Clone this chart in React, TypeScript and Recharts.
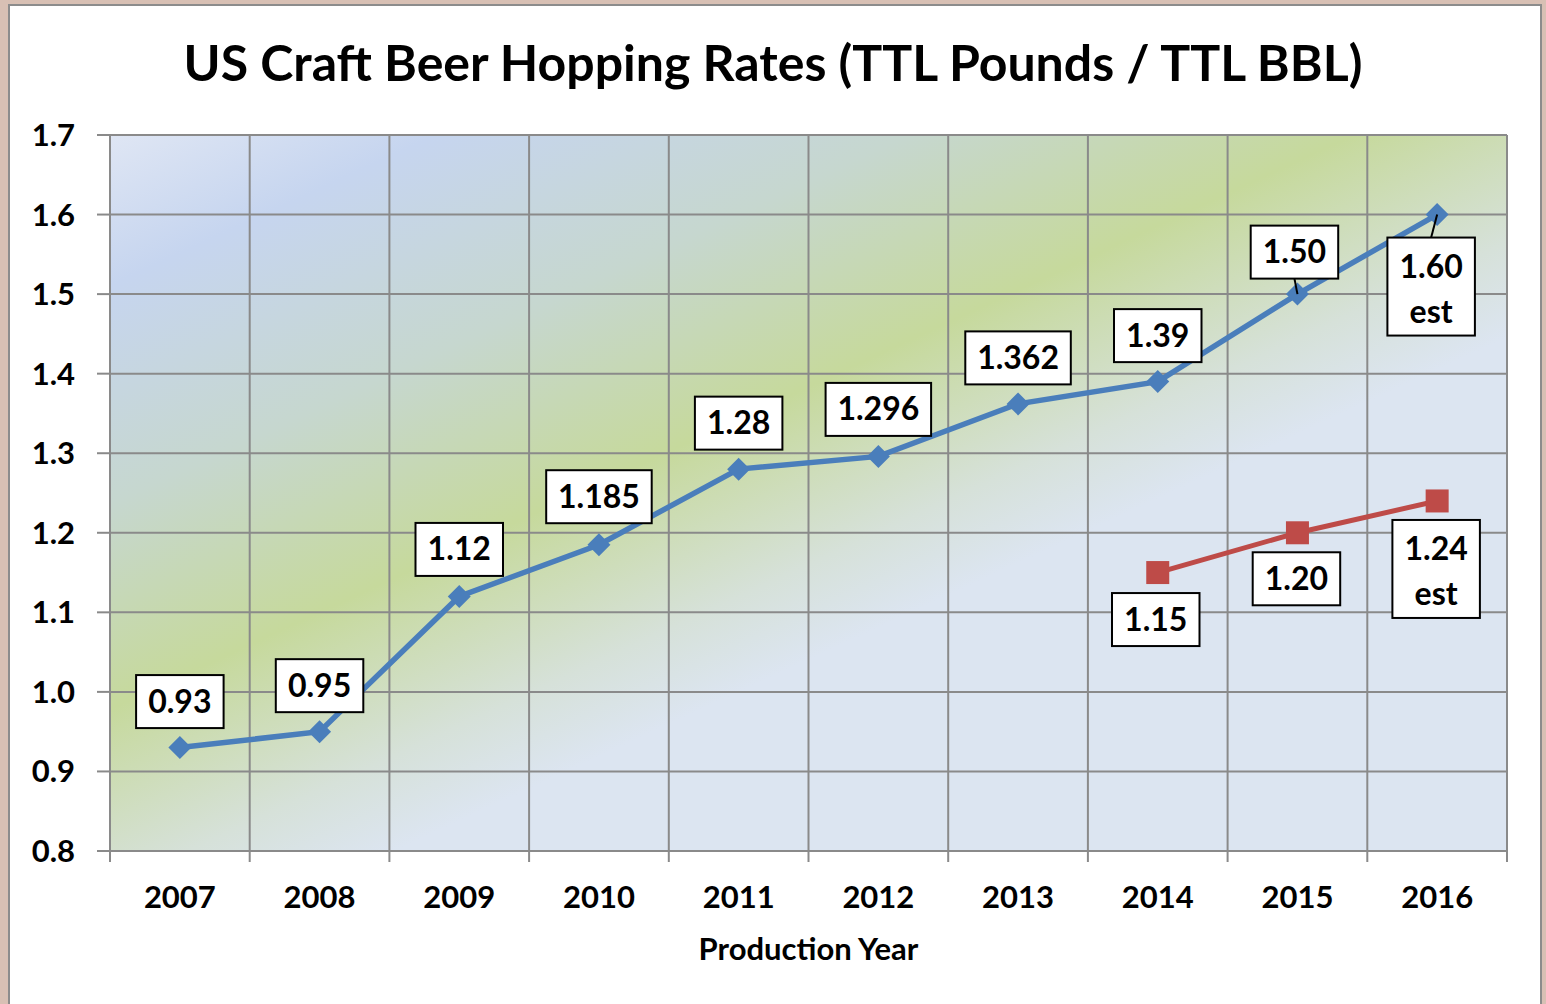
import React from "react";
import { LineChart, Line, XAxis, YAxis, CartesianGrid, LabelList } from "recharts";

const years = ["2007", "2008", "2009", "2010", "2011", "2012", "2013", "2014", "2015", "2016"];
const hopRate = [0.93, 0.95, 1.12, 1.185, 1.28, 1.296, 1.362, 1.39, 1.5, 1.6];
const hopRateAlt = [null, null, null, null, null, null, null, 1.15, 1.2, 1.24];
const hopLabels = ["0.93", "0.95", "1.12", "1.185", "1.28", "1.296", "1.362", "1.39", "1.50", "1.60\nest"];
const altLabels = [null, null, null, null, null, null, null, "1.15", "1.20", "1.24\nest"];
const yTicks = [0.8, 0.9, 1.0, 1.1, 1.2, 1.3, 1.4, 1.5, 1.6, 1.7];

// label box placement relative to the point (layout only)
const hopLabelPos = [
  { dx: 0, dy: -46 }, { dx: 0, dy: -46 }, { dx: 0, dy: -47 }, { dx: 0, dy: -48 },
  { dx: 0, dy: -46 }, { dx: 0, dy: -47 }, { dx: 0, dy: -46 }, { dx: 0, dy: -46 },
  { dx: -3, dy: -42, leader: true }, { dx: -6, dy: 72, leader: true },
];
const altLabelPos = [null, null, null, null, null, null, null, { dx: -2, dy: 47 }, { dx: -1, dy: 46 }, { dx: -1, dy: 68 }];

const data = years.map((year, i) => ({ i, year, hop: hopRate[i], alt: hopRateAlt[i] }));
const xTicks = years.map((_, i) => i - 0.5).concat(years.length - 0.5);

const FONT = "Lato, 'Open Sans', sans-serif";
const W = 1546;
const H = 1004;
const PLOT_W = 1397;
const HALF_BAND = PLOT_W / years.length / 2;

const YearTick = (props: any) => {
  const { x, y, payload } = props;
  const idx = Math.round(payload.value + 0.5);
  if (idx >= years.length) return <g />;
  return (
    <text x={x + HALF_BAND} y={y + 44} textAnchor="middle" fontFamily={FONT} fontWeight={700} fontSize={31} fill="#000">
      {years[idx]}
    </text>
  );
};

const makeBoxLabel = (texts: (string | null)[], pos: any[]) => (props: any) => {
  const { x, y, index } = props;
  const txt = texts[index];
  const p = pos[index];
  if (!txt || !p || x == null || y == null) return null;
  const lines = txt.split("\n");
  const longest = lines.reduce((a, b) => (a.length > b.length ? a : b));
  const digits = longest.replace(/[^0-9]/g, "").length;
  const others = longest.length - digits;
  const w = digits * 18 + others * 8.5 + 25;
  const h = lines.length > 1 ? 98 : 53;
  const cx = x + p.dx;
  const cy = y + p.dy;
  const top = cy - h / 2;
  const edgeY = p.dy < 0 ? top + h : top;
  return (
    <g>
      {p.leader && <line x1={cx} y1={edgeY} x2={x} y2={y} stroke="#000" strokeWidth={2} />}
      <rect x={cx - w / 2} y={top} width={w} height={h} fill="#fff" stroke="#000" strokeWidth={2} />
      {lines.map((l, k) => (
        <text
          key={k}
          x={cx}
          y={lines.length > 1 ? top + 40 + k * 45 : cy + 11}
          textAnchor="middle"
          fontFamily={FONT}
          fontWeight={700}
          fontSize={32}
          fill="#000"
        >
          {l}
        </text>
      ))}
    </g>
  );
};

const Diamond = (props: any) => {
  const { cx, cy } = props;
  if (cx == null || cy == null) return <g />;
  const r = 11.5;
  return <path d={`M${cx},${cy - r}L${cx + r},${cy}L${cx},${cy + r}L${cx - r},${cy}Z`} fill="#4a7ebb" />;
};

const Square = (props: any) => {
  const { cx, cy } = props;
  if (cx == null || cy == null) return <g />;
  return <rect x={cx - 11.5} y={cy - 11.5} width={23} height={23} fill="#be4b48" />;
};

export default function App() {
  return (
    <div style={{ position: "fixed", left: 0, top: 0, width: W, height: H, overflow: "hidden", background: "#d8c0b4" }}>
      <div
        style={{
          position: "absolute",
          left: 8,
          top: 4,
          width: 1530,
          height: 1020,
          background: "#fff",
          border: "2px solid #8c8c8c",
        }}
      />
      <div
        style={{
          position: "absolute",
          top: 31,
          left: 0,
          width: W,
          textAlign: "center",
          fontFamily: FONT,
          fontWeight: 700,
          fontSize: 50,
          lineHeight: "62px",
          color: "#000",
        }}
      >
        US Craft Beer Hopping Rates (TTL Pounds / TTL BBL)
      </div>
      <div style={{ position: "absolute", left: 0, top: 0 }}>
        <LineChart width={W} height={H} data={data} margin={{ top: 135, right: 39, left: 0, bottom: 43 }}>
          <defs>
            <linearGradient id="plotBg" gradientUnits="userSpaceOnUse" x1={110} y1={135} x2={630} y2={1262}>
              <stop offset="0" stopColor="#dfe6f4" />
              <stop offset="0.11" stopColor="#c6d5ef" />
              <stop offset="0.27" stopColor="#c6d7cf" />
              <stop offset="0.42" stopColor="#c6d99c" />
              <stop offset="0.55" stopColor="#d6e1d9" />
              <stop offset="0.62" stopColor="#dce5f1" />
              <stop offset="1" stopColor="#dce5f1" />
            </linearGradient>
          </defs>
          <CartesianGrid stroke="#8a8a8a" strokeWidth={2} fill="url(#plotBg)" fillOpacity={1} />
          <XAxis
            dataKey="i"
            type="number"
            domain={[-0.5, years.length - 0.5]}
            ticks={xTicks}
            interval={0}
            tick={<YearTick />}
            tickSize={11}
            height={110}
            axisLine={{ stroke: "#8a8a8a", strokeWidth: 2 }}
            tickLine={{ stroke: "#8a8a8a", strokeWidth: 2 }}
            label={{
              value: "Production Year",
              position: "insideBottom",
              offset: 1,
              fontFamily: FONT,
              fontWeight: 700,
              fontSize: 31,
              fill: "#000",
            }}
          />
          <YAxis
            domain={[0.8, 1.7]}
            ticks={yTicks}
            interval={0}
            width={110}
            tickSize={13}
            tickMargin={22}
            tickFormatter={(v: number) => v.toFixed(1)}
            tick={{ fontFamily: FONT, fontWeight: 700, fontSize: 31, fill: "#000" }}
            axisLine={{ stroke: "#8a8a8a", strokeWidth: 2 }}
            tickLine={{ stroke: "#8a8a8a", strokeWidth: 2 }}
          />
          <Line
            dataKey="hop"
            stroke="#4a7ebb"
            strokeWidth={5.5}
            dot={(p: any) => <Diamond key={`d${p.index}`} {...p} />}
            activeDot={false}
            isAnimationActive={false}
          >
            <LabelList dataKey="hop" content={makeBoxLabel(hopLabels, hopLabelPos)} />
          </Line>
          <Line
            dataKey="alt"
            stroke="#be4b48"
            strokeWidth={5}
            dot={(p: any) => <Square key={`s${p.index}`} {...p} />}
            activeDot={false}
            connectNulls={false}
            isAnimationActive={false}
          >
            <LabelList dataKey="alt" content={makeBoxLabel(altLabels, altLabelPos)} />
          </Line>
        </LineChart>
      </div>
    </div>
  );
}
